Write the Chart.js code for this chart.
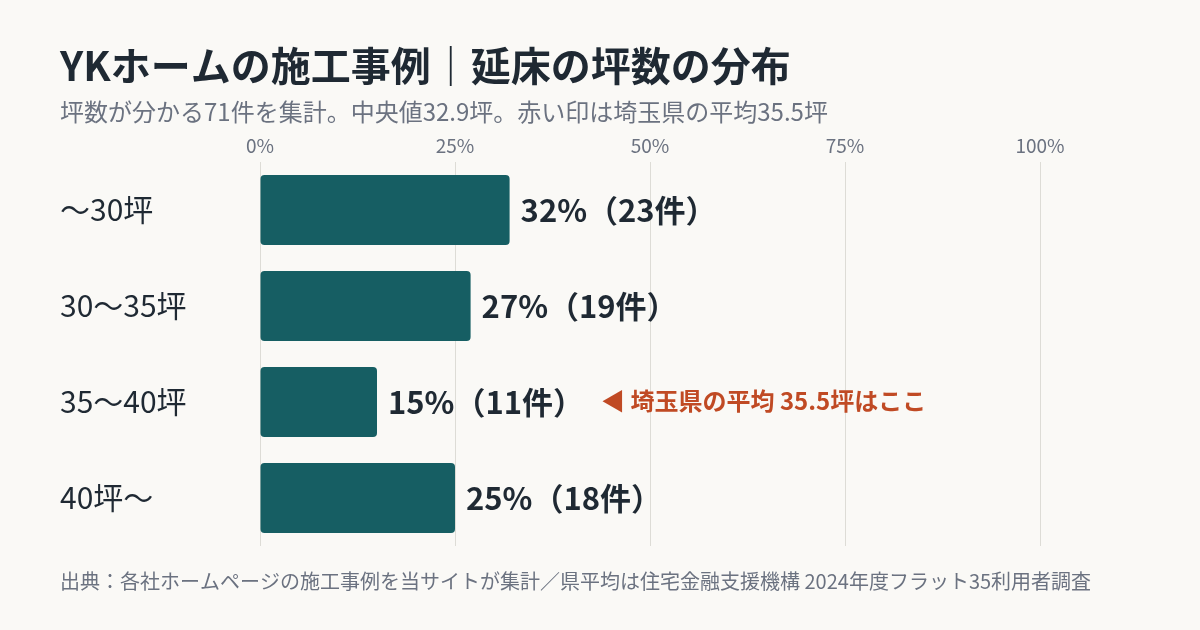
<!DOCTYPE html>
<html lang="ja">
<head>
<meta charset="utf-8">
<script src="https://cdn.jsdelivr.net/npm/chart.js@4.4.1/dist/chart.umd.min.js"></script>
<style>
  html, body { margin: 0; padding: 0; background: #FAF9F6; }
  #wrap { width: 1200px; height: 630px; position: relative; }
</style>
</head>
<body>
<div id="wrap"><canvas id="c" width="1200" height="630"></canvas></div>
<script>
const categories = ['〜30坪', '30〜35坪', '35〜40坪', '40坪〜'];
const percents = [32, 27, 15, 25];
const counts = [23, 19, 11, 18];
const xTicks = [0, 25, 50, 75, 100];

const titleText = 'YKホームの施工事例｜延床の坪数の分布';
const subtitleText = '坪数が分かる71件を集計。中央値32.9坪。赤い印は埼玉県の平均35.5坪';
const noteText = '◀ 埼玉県の平均 35.5坪はここ';
const noteRow = 2;
const footerText = '出典：各社ホームページの施工事例を当サイトが集計／県平均は住宅金融支援機構 2024年度フラット35利用者調査';

const FONT = '"Noto Sans CJK JP", "Noto Sans", sans-serif';
const DARK = '#1F2933';
const GRAY = '#6B7280';
const BAR = '#165E63';
const ACCENT = '#C04A24';

const textPlugin = {
  id: 'texts',
  beforeDraw(chart) {
    const ctx = chart.ctx;
    ctx.save();
    ctx.fillStyle = '#FAF9F6';
    ctx.fillRect(0, 0, chart.width, chart.height);
    ctx.restore();
  },
  afterDraw(chart) {
    const ctx = chart.ctx;
    ctx.save();
    ctx.textBaseline = 'middle';
    ctx.textAlign = 'left';
    ctx.fillStyle = DARK;
    ctx.font = 'bold 40px ' + FONT;
    ctx.fillText(titleText, 60, 66);
    ctx.fillStyle = GRAY;
    ctx.font = '24px ' + FONT;
    ctx.fillText(subtitleText, 60, 112);
    ctx.font = '20px ' + FONT;
    ctx.fillText(footerText, 60, 581);

    const meta = chart.getDatasetMeta(0);
    ctx.font = 'bold 31px ' + FONT;
    ctx.fillStyle = DARK;
    meta.data.forEach((bar, i) => {
      ctx.fillText(percents[i] + '%（' + counts[i] + '件）', bar.x + 11, bar.y);
    });
    const yScale = chart.scales.y;
    ctx.font = 'bold 24px ' + FONT;
    ctx.fillStyle = ACCENT;
    ctx.fillText(noteText, 601, yScale.getPixelForValue(noteRow) - 1);
    ctx.restore();
  }
};

new Chart(document.getElementById('c'), {
  type: 'bar',
  data: {
    labels: categories,
    datasets: [{
      data: percents,
      backgroundColor: BAR,
      borderRadius: 4,
      borderSkipped: false,
      barPercentage: 1,
      categoryPercentage: 70 / 96
    }]
  },
  options: {
    indexAxis: 'y',
    responsive: false,
    animation: false,
    devicePixelRatio: 1,
    layout: { padding: { left: 60, right: 160, top: 130, bottom: 84 } },
    plugins: { legend: { display: false }, tooltip: { enabled: false }, title: { display: false } },
    scales: {
      x: {
        position: 'top',
        min: 0,
        max: 100,
        afterBuildTicks(scale) { scale.ticks = xTicks.map(v => ({ value: v })); },
        afterFit(scale) { scale.height = 32; },
        ticks: {
          callback: v => v + '%',
          color: GRAY,
          font: { family: FONT, size: 19 },
          padding: 5
        },
        grid: { color: '#DDDCD6', lineWidth: 1, drawTicks: false },
        border: { display: false }
      },
      y: {
        afterFit(scale) { scale.width = 200; },
        ticks: {
          crossAlign: 'far',
          color: DARK,
          font: { family: FONT, size: 30 },
          padding: 0
        },
        grid: { display: false },
        border: { display: false }
      }
    }
  },
  plugins: [textPlugin]
});
</script>
</body>
</html>
